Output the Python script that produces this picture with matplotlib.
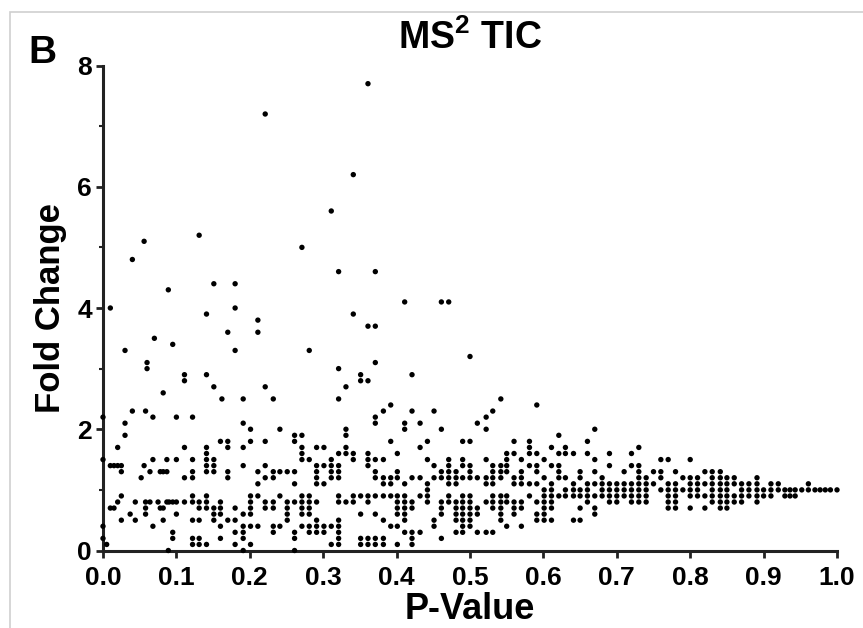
import matplotlib
matplotlib.use("Agg")
import matplotlib.pyplot as plt
from matplotlib.patches import Rectangle
from matplotlib.ticker import MultipleLocator, FormatStrFormatter

# ---- data: each column = one P-value position with the fold changes found there ----
p_cols = [
    0.000, 0.005, 0.010, 0.015, 0.020, 0.025, 0.030, 0.037, 0.040, 0.044,
    0.052, 0.056, 0.058, 0.060, 0.064, 0.068, 0.070, 0.075, 0.078, 0.082,
    0.087, 0.089, 0.090, 0.095, 0.100, 0.111, 0.122, 0.131, 0.141, 0.151,
    0.160, 0.162, 0.170, 0.180, 0.191, 0.201, 0.211, 0.221, 0.232, 0.241,
    0.251, 0.261, 0.271, 0.281, 0.291, 0.301, 0.311, 0.321, 0.331, 0.341,
    0.351, 0.361, 0.371, 0.382, 0.392, 0.401, 0.411, 0.421, 0.432, 0.442,
    0.451, 0.461, 0.471, 0.481, 0.490,
    0.500, 0.510, 0.522, 0.531, 0.542, 0.550, 0.560, 0.570, 0.581, 0.591,
    0.601, 0.611, 0.621, 0.630, 0.641, 0.650,
    0.660, 0.670, 0.680, 0.690, 0.700, 0.710, 0.720, 0.730, 0.740, 0.750,
    0.760, 0.770, 0.780, 0.790, 0.800, 0.810, 0.820,
    0.830, 0.841, 0.850, 0.860, 0.870, 0.880, 0.891, 0.900, 0.910, 0.920,
    0.929, 0.936, 0.943, 0.952, 0.961, 0.970, 0.977, 0.984, 0.991, 1.000,
]

fc_cols = [
    [2.2, 1.5, 0.4, 0.2], [0.1], [4.0, 1.4, 0.7], [1.4, 0.7], [1.7, 1.4, 0.8],
    [1.4, 1.3, 0.9, 0.5], [3.3, 2.1, 1.9], [0.6], [4.8, 2.3], [0.8, 0.5],
    [1.2], [5.1, 1.4], [2.3, 0.8, 0.7, 0.6], [3.1, 3.0], [1.3, 0.8],
    [2.2, 1.5, 0.4], [3.5], [0.8], [1.3, 0.7], [2.6, 1.3, 0.7, 0.5],
    [1.5, 1.3, 0.8], [4.3, 0.0], [0.8], [3.4, 0.8, 0.3, 0.2], [2.2, 1.5, 0.8, 0.6],
    [2.9, 2.8, 1.7, 1.2, 0.8], [2.2, 1.5, 1.3, 1.2, 0.9, 0.8, 0.5, 0.2, 0.1],
    [5.2, 0.8, 0.7, 0.5, 0.2, 0.1],
    [3.9, 2.9, 1.7, 1.6, 1.5, 1.4, 1.3, 0.9, 0.8, 0.7, 0.1],
    [4.4, 2.7, 1.5, 1.4, 1.3, 0.7, 0.6, 0.5],
    [1.8, 0.8, 0.7, 0.6, 0.4, 0.2], [2.5], [3.6, 1.8, 1.7, 1.3, 1.2, 0.5],
    [4.4, 4.0, 3.3, 0.7, 0.5, 0.3, 0.1],
    [2.5, 2.1, 1.7, 1.4, 0.6, 0.4, 0.3, 0.2, 0.0],
    [2.0, 1.8, 0.9, 0.8, 0.7, 0.6, 0.4, 0.1],
    [3.8, 3.6, 1.3, 1.1, 0.9, 0.4],
    [7.2, 2.7, 1.8, 1.4, 1.2, 0.8, 0.7],
    [2.5, 1.3, 1.2, 0.8, 0.7, 0.4, 0.3],
    [2.0, 1.3, 0.9, 0.4],
    [1.3, 0.8, 0.7, 0.6, 0.5],
    [1.9, 1.8, 1.3, 1.1, 0.8, 0.3, 0.2, 0.0],
    [5.0, 1.9, 1.7, 1.6, 1.5, 0.9, 0.8, 0.7, 0.6, 0.4],
    [3.3, 1.5, 0.9, 0.8, 0.7, 0.6, 0.4, 0.3],
    [1.7, 1.4, 1.3, 1.2, 1.1, 0.8, 0.5, 0.4, 0.3],
    [1.7, 1.4, 1.1, 0.4, 0.3],
    [5.6, 1.5, 1.4, 1.3, 1.2, 0.4, 0.1],
    [4.6, 3.0, 2.5, 1.6, 1.4, 1.3, 1.2, 0.9, 0.8, 0.5, 0.4, 0.3, 0.2, 0.1],
    [2.7, 2.0, 1.9, 1.7, 1.6, 0.8],
    [6.2, 3.9, 1.6, 1.5, 0.9, 0.8],
    [2.9, 2.8, 0.9, 0.6, 0.2, 0.1],
    [7.7, 3.7, 2.8, 1.6, 1.5, 1.4, 0.9, 0.8, 0.2, 0.1],
    [4.6, 3.7, 3.1, 2.2, 2.1, 1.5, 1.3, 1.2, 0.9, 0.6, 0.2, 0.1],
    [2.3, 1.5, 1.2, 1.1, 0.9, 0.5, 0.2, 0.1],
    [2.4, 1.8, 1.2, 1.1, 0.9, 0.4],
    [1.6, 1.3, 1.2, 0.9, 0.8, 0.7, 0.6, 0.4, 0.1],
    [4.1, 2.1, 2.0, 1.1, 0.9, 0.8, 0.7, 0.6, 0.5, 0.3],
    [2.9, 2.3, 1.2, 0.8, 0.7, 0.3, 0.2, 0.1],
    [2.1, 1.7, 1.2, 0.9, 0.3],
    [1.8, 1.5, 1.1, 1.0, 0.9, 0.8],
    [2.3, 1.4, 1.2, 0.5, 0.4],
    [4.1, 2.0, 1.3, 1.2, 0.8, 0.7, 0.6, 0.2],
    [4.1, 1.5, 1.4, 1.3, 1.2, 1.1, 0.9, 0.8],
    [1.3, 1.2, 1.1, 0.8, 0.7, 0.6, 0.5, 0.3],
    [1.8, 1.5, 1.4, 1.2, 0.9, 0.8, 0.7, 0.6, 0.5, 0.4, 0.3],
    # 0.50 - 0.65
    [3.2, 1.8, 1.4, 1.3, 1.2, 0.9, 0.8, 0.7, 0.6, 0.5, 0.4],
    [2.1, 1.2, 0.7, 0.6, 0.3],
    [2.2, 2.0, 1.5, 1.2, 1.1, 0.8, 0.3],
    [2.3, 1.4, 1.3, 1.2, 1.1, 0.9, 0.8, 0.7, 0.3],
    [2.5, 1.4, 1.3, 1.2, 0.9, 0.8, 0.7, 0.6, 0.5],
    [1.6, 1.5, 1.4, 1.3, 0.9, 0.8, 0.4],
    [1.8, 1.6, 1.2, 1.1, 0.8, 0.7, 0.6],
    [1.5, 1.3, 1.2, 1.1, 0.8, 0.7, 0.4],
    [1.8, 1.7, 1.6, 1.4, 1.1, 0.9],
    [2.4, 1.6, 1.4, 1.3, 1.1, 0.8, 0.6, 0.5],
    [1.5, 1.2, 1.0, 0.9, 0.8, 0.7, 0.6, 0.5],
    [1.7, 1.4, 1.1, 1.0, 0.9, 0.8, 0.7, 0.5],
    [1.9, 1.6, 1.4, 1.3, 1.2, 0.9],
    [1.7, 1.6, 1.2, 1.0, 0.9],
    [1.6, 1.1, 1.0, 0.9, 0.5],
    [1.3, 1.2, 1.0, 0.9, 0.7, 0.5],
    # 0.66 - 0.82
    [1.8, 1.6, 1.1, 1.0, 0.9, 0.8],
    [2.0, 1.5, 1.3, 1.1, 0.9, 0.7, 0.6],
    [1.2, 1.1, 1.0, 0.9],
    [1.6, 1.4, 1.1, 1.0, 0.9, 0.8],
    [1.1, 1.0, 0.9, 0.8],
    [1.3, 1.1, 1.0, 0.9],
    [1.6, 1.4, 1.1, 1.0, 0.9, 0.8],
    [1.7, 1.4, 1.3, 1.2, 1.1, 1.0, 0.9, 0.8],
    [1.2, 1.1, 1.0, 0.9, 0.8],
    [1.3, 1.1],
    [1.5, 1.3, 1.2, 1.0],
    [1.5, 1.1, 1.0, 0.9, 0.8, 0.7],
    [1.3, 1.1, 1.0, 0.9, 0.8, 0.7],
    [1.2, 1.0],
    [1.5, 1.2, 1.1, 1.0, 0.9, 0.7],
    [1.2, 1.1, 1.0, 0.9],
    [1.3, 1.1, 0.9, 0.7],
    # 0.83 - 1.00
    [1.3, 1.2, 1.1, 1.0, 0.9, 0.8],
    [1.3, 1.2, 1.1, 1.0, 0.9, 0.8, 0.7],
    [1.2, 1.1, 1.0, 0.9, 0.8, 0.7],
    [1.2, 1.1, 0.9, 0.8],
    [1.1, 1.0, 0.9, 0.8],
    [1.1, 1.0, 0.9],
    [1.2, 1.1, 1.0, 0.9, 0.8],
    [1.0, 0.9],
    [1.1, 1.0, 0.9],
    [1.1, 1.0],
    [1.0, 0.9], [1.0, 0.9], [1.0, 0.9], [1.0], [1.1, 1.0],
    [1.0], [1.0], [1.0], [1.0], [1.0],
]

x_ticks = [0.0, 0.1, 0.2, 0.3, 0.4, 0.5, 0.6, 0.7, 0.8, 0.9, 1.0]
y_ticks = [0, 2, 4, 6, 8]
title_text = r"MS$^\mathbf{2}$ TIC"
x_label = "P-Value"
y_label = "Fold Change"
panel_label = "B"

# flatten
xs, ys = [], []
for p, fcs in zip(p_cols, fc_cols):
    for v in fcs:
        xs.append(p)
        ys.append(v)

plt.rcParams['font.family'] = ['Liberation Sans', 'DejaVu Sans']
plt.rcParams['mathtext.fontset'] = 'custom'
plt.rcParams['mathtext.bf'] = 'Liberation Sans:bold'
plt.rcParams['mathtext.rm'] = 'Liberation Sans'

fig = plt.figure(figsize=(8.63, 6.28), dpi=100)
fig.patch.set_facecolor('white')
fig.patches.append(Rectangle((10 / 863, -0.05), 1.1, 1 - 12 / 628 + 0.05,
                             transform=fig.transFigure, fill=False,
                             edgecolor='#cfcfcf', linewidth=1.2))

ax = fig.add_axes([103 / 863, 1 - 550.5 / 628, (837 - 103) / 863, (550.5 - 65.5) / 628])
ax.scatter(xs, ys, s=15, c='black', edgecolors='none', clip_on=False, zorder=3)

ax.set_xlim(0, 1.0)
ax.set_ylim(0, 8)
ax.set_xticks(x_ticks)
ax.set_yticks(y_ticks)
ax.yaxis.set_minor_locator(MultipleLocator(1))
ax.xaxis.set_major_formatter(FormatStrFormatter('%.1f'))

for s in ['top', 'right']:
    ax.spines[s].set_visible(False)
for s in ['left', 'bottom']:
    ax.spines[s].set_linewidth(2.2)
    ax.spines[s].set_color('#222222')

ax.tick_params(axis='both', which='major', direction='out', length=5, width=2,
               color='#222222', labelsize=19)
ax.tick_params(axis='x', which='major', pad=6)
ax.tick_params(axis='y', which='major', pad=3)
ax.tick_params(axis='y', which='minor', direction='out', length=3, width=1.5,
               color='#222222')
for lab in ax.get_xticklabels() + ax.get_yticklabels():
    lab.set_fontweight('bold')

ax.set_xlabel(x_label, fontsize=26, fontweight='bold', va='top')
ax.xaxis.set_label_coords(0.5, -(592 - 550.5) / 485)
ax.set_ylabel(y_label, fontsize=25, fontweight='bold', labelpad=7)
ax.set_title(title_text, fontsize=27, fontweight='bold', pad=12)

fig.text(28 / 863, 1 - 63 / 628, panel_label, fontsize=28, fontweight='bold',
         ha='left', va='baseline')

fig.savefig('out.png', dpi=100, facecolor='white')
